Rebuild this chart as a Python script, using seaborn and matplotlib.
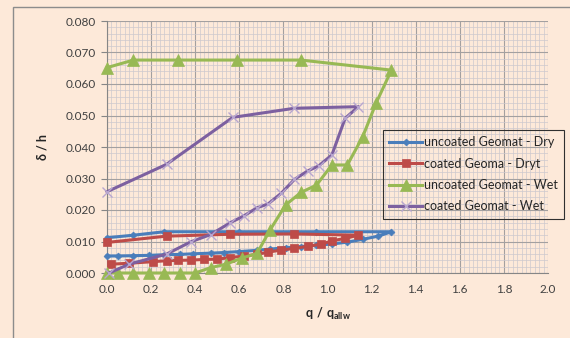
import numpy as np
import pandas as pd
import matplotlib
matplotlib.use("Agg")
import matplotlib.pyplot as plt
from matplotlib.ticker import MultipleLocator, FormatStrFormatter
from matplotlib.patches import Rectangle
import seaborn as sns

# ---------------- data ----------------
labels = ["uncoated Geomat - Dry", "coated Geoma - Dryt",
          "uncoated Geomat - Wet", "coated Geomat - Wet"]

q_unc_dry = [0.0, 0.05, 0.12, 0.19, 0.26, 0.33, 0.39, 0.47, 0.53, 0.60, 0.68, 0.74,
             0.81, 0.88, 0.95, 1.02, 1.09, 1.16, 1.23, 1.29, 0.95, 0.60, 0.26, 0.12, 0.0]
d_unc_dry = [0.0054, 0.0054, 0.0055, 0.0056, 0.0058, 0.0059, 0.0061, 0.0063, 0.0065,
             0.0068, 0.0072, 0.0076, 0.0080, 0.0084, 0.0088, 0.0092, 0.0098, 0.0107,
             0.0117, 0.0131, 0.0131, 0.0131, 0.0131, 0.0120, 0.0112]

q_coa_dry = [0.02, 0.10, 0.21, 0.27, 0.32, 0.38, 0.44, 0.50, 0.56, 0.62, 0.68, 0.73,
             0.79, 0.85, 0.91, 0.97, 1.02, 1.08, 1.14, 0.85, 0.56, 0.27, 0.0]
d_coa_dry = [0.0028, 0.0031, 0.0036, 0.0039, 0.0040, 0.0041, 0.0043, 0.0044, 0.0049,
             0.0054, 0.0059, 0.0066, 0.0073, 0.0078, 0.0085, 0.0091, 0.0102, 0.0110,
             0.0120, 0.0124, 0.0123, 0.0117, 0.0097]

q_unc_wet = [0.0, 0.05, 0.12, 0.19, 0.26, 0.33, 0.40, 0.47, 0.54, 0.61, 0.68, 0.74,
             0.81, 0.88, 0.95, 1.02, 1.09, 1.16, 1.22, 1.29, 0.88, 0.59, 0.32, 0.12, 0.0]
d_unc_wet = [0.0, 0.0, 0.0, 0.0, 0.0, 0.0, 0.0, 0.0017, 0.0028, 0.0047, 0.0062, 0.0137,
             0.0216, 0.0256, 0.0279, 0.0343, 0.0343, 0.0433, 0.0539, 0.0644, 0.0676,
             0.0676, 0.0676, 0.0676, 0.0652]

q_coa_wet = [0.01, 0.10, 0.27, 0.38, 0.47, 0.56, 0.62, 0.68, 0.73, 0.79, 0.85, 0.91,
             0.96, 1.02, 1.08, 1.14, 0.85, 0.57, 0.27, 0.0]
d_coa_wet = [0.0, 0.0028, 0.0060, 0.0099, 0.0122, 0.0160, 0.0181, 0.0207, 0.0219,
             0.0253, 0.0297, 0.0324, 0.0340, 0.0375, 0.0491, 0.0528, 0.0523, 0.0494,
             0.0345, 0.0258]

x_ticks = [0.0, 0.2, 0.4, 0.6, 0.8, 1.0, 1.2, 1.4, 1.6, 1.8, 2.0]
y_ticks = [0.000, 0.010, 0.020, 0.030, 0.040, 0.050, 0.060, 0.070, 0.080]

# ---------------- style ----------------
BG = "#FDE9D9"
plt.rcParams["font.family"] = ["Lato", "DejaVu Sans"]
plt.rcParams["mathtext.fontset"] = "custom"
plt.rcParams["mathtext.rm"] = "Lato"
plt.rcParams["mathtext.bf"] = "Lato:bold"

fig = plt.figure(figsize=(5.70, 3.38), dpi=100, facecolor=BG)
ax = fig.add_axes([107 / 570, 1 - 273 / 338, (548 - 107) / 570, (273 - 21) / 338])
ax.set_facecolor(BG)

series = [
    (q_unc_dry, d_unc_dry, "#4A7EBB", "D", 3.5, None),
    (q_coa_dry, d_coa_dry, "#BE4B48", "s", 6, None),
    (q_unc_wet, d_unc_wet, "#98B954", "^", 8, None),
    (q_coa_wet, d_coa_wet, "#7D60A0", "x", 7, "#B8A6CF"),
]
for (qx, dy, col, mk, ms, mec), lab in zip(series, labels):
    df = pd.DataFrame({"q": qx, "d": dy})
    sns.lineplot(data=df, x="q", y="d", sort=False, estimator=None, ax=ax,
                 color=col, linewidth=2.2, marker=mk, markersize=ms,
                 markeredgecolor=(mec if mec else col),
                 markeredgewidth=(1.0 if mk == "x" else 0.5),
                 label=lab, zorder=3, clip_on=False)

ax.set_xlim(0, 2.0)
ax.set_ylim(0, 0.080)
ax.set_xticks(x_ticks)
ax.set_yticks(y_ticks)
ax.xaxis.set_major_formatter(FormatStrFormatter("%.1f"))
ax.yaxis.set_major_formatter(FormatStrFormatter("%.3f"))
ax.xaxis.set_minor_locator(MultipleLocator(0.02))
ax.yaxis.set_minor_locator(MultipleLocator(0.002))
ax.grid(which="minor", color="#CDC8CE", linewidth=0.5, zorder=0)
ax.grid(which="major", color="#A3A0A0", linewidth=0.8, zorder=1)
ax.set_axisbelow(True)
ax.tick_params(axis="both", which="minor", length=0)
ax.tick_params(axis="y", which="major", length=4, color="#868686",
               labelsize=8.5, labelcolor="#404040", pad=4)
ax.tick_params(axis="x", which="major", length=0, labelsize=8.5,
               labelcolor="#404040", pad=8)
for s in ["top", "right"]:
    ax.spines[s].set_visible(False)
for s in ["left", "bottom"]:
    ax.spines[s].set_color("#868686")
    ax.spines[s].set_linewidth(0.8)

ax.set_xlabel(r"$\mathbf{q\ /\ q_{allw}}$", fontsize=9, color="#262626", labelpad=8)
ax.set_ylabel("δ / h", fontsize=9, fontweight="bold", color="#262626", labelpad=12)

leg = ax.legend(loc="upper left", bbox_to_anchor=(383 / 570, 1 - 130 / 338),
                bbox_transform=fig.transFigure, fontsize=9, frameon=True,
                fancybox=False, framealpha=1, facecolor="none", edgecolor="#303030",
                handlelength=2.6, handletextpad=0.15, labelspacing=0.75,
                borderpad=0.5, borderaxespad=0)
leg.get_frame().set_linewidth(0.8)
for t in leg.get_texts():
    t.set_color("#262626")

fig.add_artist(Rectangle((13 / 570, -0.2), 1.2, 1.2 - 7 / 338,
                         transform=fig.transFigure, fill=False,
                         edgecolor="#8C8C8C", linewidth=1.0))

fig.savefig("out.png", dpi=100, facecolor=BG)
